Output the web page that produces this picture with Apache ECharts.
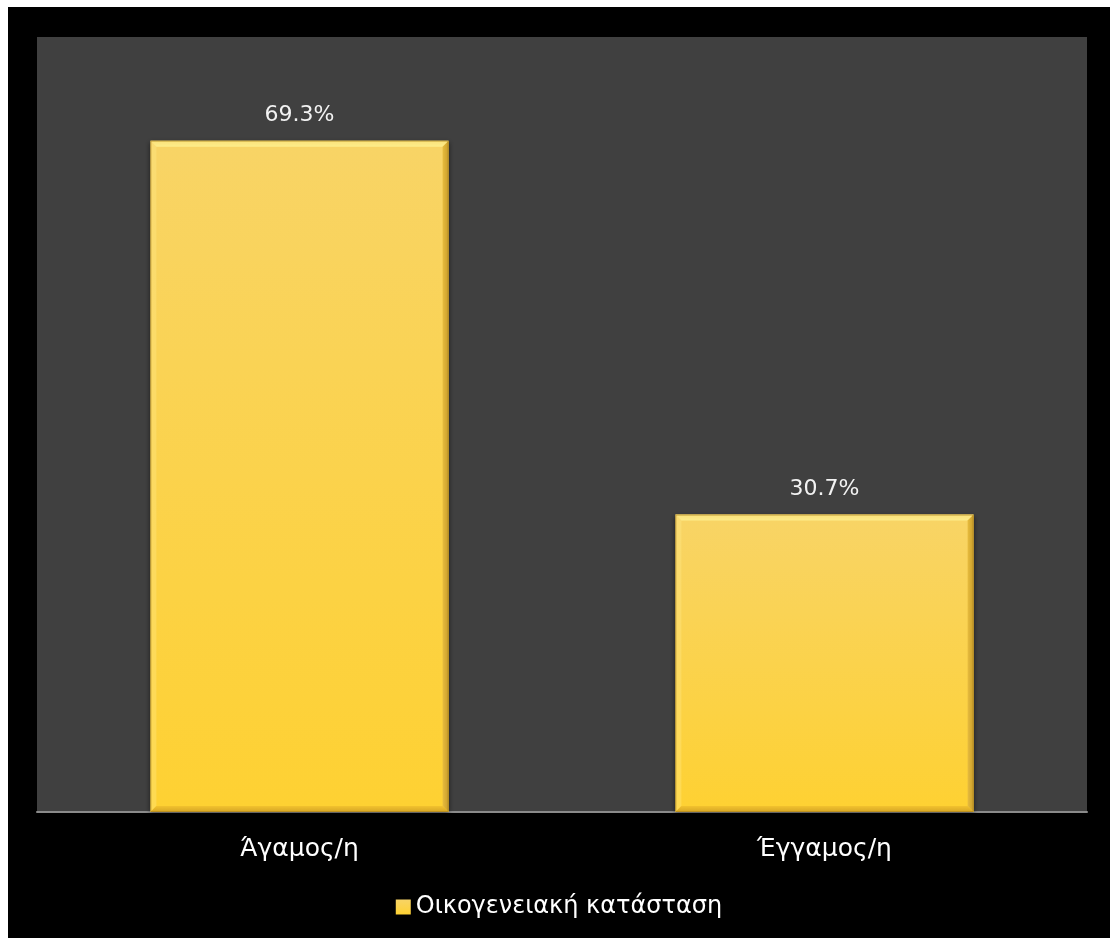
<!DOCTYPE html>
<html>
<head>
<meta charset="utf-8">
<script src="https://cdn.jsdelivr.net/npm/echarts@6/dist/echarts.min.js"></script>
<style>
  html, body { margin: 0; padding: 0; background: #ffffff; width: 1110px; height: 938px; overflow: hidden; }
  #chart { position: absolute; left: 8px; top: 7px; width: 1102px; height: 931px; background: #000000; }
</style>
</head>
<body>
<div id="chart"></div>
<script>
// Marital status shares (percent)
const categories = ['Άγαμος/η', 'Έγγαμος/η'];
const seriesName = 'Οικογενειακή κατάσταση';
const values = [69.3, 30.7];

const FONT = '"DejaVu Sans", "Noto Sans", sans-serif';
const BAR_RATIO = 0.568;
const BEVEL = 6;

const chart = echarts.init(document.getElementById('chart'));

// Bevel edges drawn over each bar: light top/left, darker right/bottom
function renderBevel(params, api) {
  const idx = api.value(0);
  const val = api.value(1);
  const top = api.coord([idx, val]);
  const base = api.coord([idx, 0]);
  const bw = api.size([1, 0])[0] * BAR_RATIO;
  const x0 = top[0] - bw / 2, x1 = top[0] + bw / 2;
  const y0 = top[1], y1 = base[1];
  const b = BEVEL;
  return {
    type: 'group',
    silent: true,
    children: [
      { type: 'polygon', shape: { points: [[x0, y0], [x1, y0], [x1 - b, y0 + b], [x0 + b, y0 + b]] },
        style: { fill: new echarts.graphic.LinearGradient(0, 0, 0, 1, [
          { offset: 0, color: '#fbe27a' }, { offset: 1, color: '#fdec8a' }]) } },
      { type: 'polygon', shape: { points: [[x0, y0], [x0 + b, y0 + b], [x0 + b, y1 - b], [x0, y1]] },
        style: { fill: 'rgba(255,236,140,0.35)' } },
      { type: 'polygon', shape: { points: [[x1, y0], [x1, y1], [x1 - b, y1 - b], [x1 - b, y0 + b]] },
        style: { fill: new echarts.graphic.LinearGradient(1, 0, 0, 0, [
          { offset: 0, color: '#c99d2a' }, { offset: 1, color: '#e7bc3e' }]) } },
      { type: 'polygon', shape: { points: [[x0, y1], [x0 + b, y1 - b], [x1 - b, y1 - b], [x1, y1]] },
        style: { fill: new echarts.graphic.LinearGradient(0, 1, 0, 0, [
          { offset: 0, color: '#d6a624' }, { offset: 1, color: '#f2c22e' }]) } },
      { type: 'rect', shape: { x: x0 + 0.5, y: y0 + 0.5, width: bw - 1, height: y1 - y0 - 1 },
        style: { fill: null, stroke: 'rgba(170,130,30,0.6)', lineWidth: 1 } }
    ]
  };
}

chart.setOption({
  backgroundColor: '#000000',
  animation: false,
  grid: {
    left: 29, right: 23, top: 30, bottom: 126,
    show: true, backgroundColor: '#404040', borderWidth: 0
  },
  legend: {
    bottom: 14,
    left: 'center',
    itemWidth: 15, itemHeight: 15, itemGap: 8,
    icon: 'rect',
    data: [seriesName],
    textStyle: { color: '#ffffff', fontSize: 24, fontFamily: FONT }
  },
  xAxis: {
    type: 'category',
    data: categories,
    axisLine: { show: true, lineStyle: { color: '#8a8a8a', width: 2 } },
    axisTick: { show: false },
    axisLabel: { color: '#ffffff', fontSize: 25, fontFamily: FONT, margin: 25 }
  },
  yAxis: {
    type: 'value',
    min: 0, max: 80, interval: 10,
    show: false,
    splitLine: { show: false }
  },
  series: [
    {
      name: seriesName,
      type: 'bar',
      data: values,
      barWidth: (BAR_RATIO * 100) + '%',
      itemStyle: {
        color: new echarts.graphic.LinearGradient(0, 0, 0, 1, [
          { offset: 0, color: '#f8d466' },
          { offset: 1, color: '#fed132' }
        ]),
        shadowColor: 'rgba(0,0,0,0.55)',
        shadowBlur: 5,
        shadowOffsetX: 0,
        shadowOffsetY: 1
      },
      label: {
        show: true,
        position: 'top',
        distance: 14,
        color: '#f2f2f2',
        fontSize: 22,
        fontFamily: FONT,
        formatter: p => p.value.toFixed(1) + '%'
      }
    },
    {
      name: 'bevel',
      type: 'custom',
      renderItem: renderBevel,
      data: values.map((v, i) => [i, v]),
      encode: { x: 0, y: 1 },
      z: 3,
      silent: true,
      tooltip: { show: false }
    }
  ]
});
</script>
</body>
</html>
